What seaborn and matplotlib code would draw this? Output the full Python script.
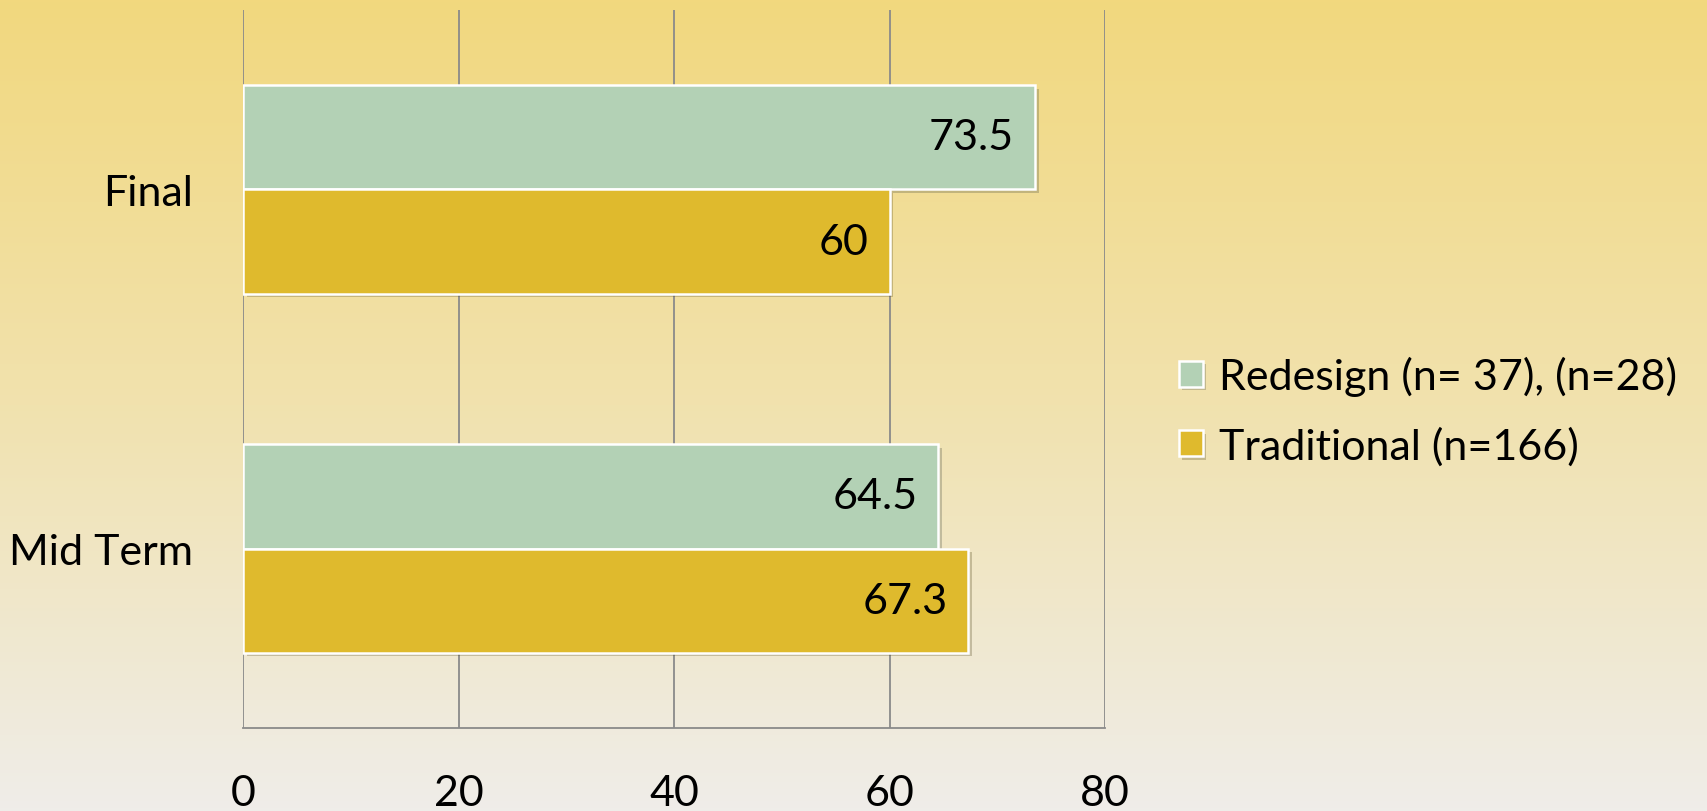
import numpy as np
import pandas as pd
import matplotlib
matplotlib.use('Agg')
import matplotlib.pyplot as plt
import matplotlib.patheffects as pe
from matplotlib.colors import LinearSegmentedColormap
import seaborn as sns

categories = ['Final', 'Mid Term']
redesign = [73.5, 64.5]
traditional = [60, 67.3]
series_names = ['Redesign (n= 37), (n=28)', 'Traditional (n=166)']
xticks = [0, 20, 40, 60, 80]

df = pd.DataFrame({
    'exam': categories * 2,
    'score': redesign + traditional,
    'group': [series_names[0]] * len(categories) + [series_names[1]] * len(categories),
})

sns.set_style('white')
plt.rcParams['font.family'] = ['Lato', 'DejaVu Sans']
plt.rcParams['text.color'] = 'black'
plt.rcParams['xtick.color'] = 'black'
plt.rcParams['ytick.color'] = 'black'

fig = plt.figure(figsize=(17.07, 8.12), dpi=100)

# background gradient yellow -> light grey
bg = fig.add_axes([0, 0, 1, 1], zorder=-10)
cmap_bg = LinearSegmentedColormap.from_list('bg', ['#F2D87E', '#F1E2AE', '#EFEDE9'])
grad = np.linspace(0, 1, 256).reshape(-1, 1)
bg.imshow(grad, aspect='auto', cmap=cmap_bg, extent=[0, 1, 0, 1])
bg.set_axis_off()

ax = fig.add_axes([0.1424, 0.1022, 0.505, 0.8843])
ax.set_facecolor('none')

palette = {series_names[0]: '#B3D1B5', series_names[1]: '#DFBA2D'}
sns.barplot(data=df, x='score', y='exam', hue='group', order=categories,
            hue_order=series_names, palette=palette, orient='h', width=0.58,
            edgecolor='white', linewidth=1.8, saturation=1, ax=ax, zorder=3)

for p in ax.patches:
    p.set_path_effects([pe.SimplePatchShadow(offset=(2.5, -2.5), alpha=0.25), pe.Normal()])

for cont in ax.containers:
    labels = ax.bar_label(cont, labels=[('%g' % v) for v in cont.datavalues],
                          padding=-15, fontsize=31, color='black')
    for t in labels:
        t.set_ha('right')

ax.set_xlim(0, 80)
ax.set_ylim(1.5, -0.5)
ax.set_xticks(xticks)
ax.set_xticklabels([str(v) for v in xticks], fontsize=31)
ax.tick_params(axis='x', length=0, pad=33)
ax.tick_params(axis='y', length=0, pad=36, labelsize=31)
ax.set_xlabel('')
ax.set_ylabel('')
ax.grid(axis='x', color='#8A8A8A', linewidth=1.3, zorder=0)
ax.grid(axis='y', visible=False)
ax.set_axisbelow(True)
for s in ['top', 'right', 'left']:
    ax.spines[s].set_visible(False)
ax.spines['bottom'].set_color('#8A8A8A')
ax.spines['bottom'].set_linewidth(1.3)

handles, labs = ax.get_legend_handles_labels()
ax.legend_.remove()
fig.legend(handles, labs, loc='center left', bbox_to_anchor=(0.6805, 0.493),
           frameon=False, fontsize=31, handlelength=0.55, handleheight=0.55,
           handletextpad=0.38, labelspacing=0.7, borderaxespad=0)

fig.savefig('out.png', dpi=100)
